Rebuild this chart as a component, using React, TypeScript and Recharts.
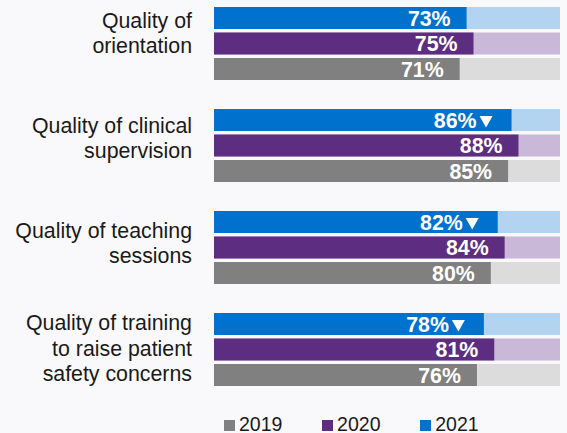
import React from "react";
import { BarChart, Bar, XAxis, YAxis, LabelList, Legend } from "recharts";

const categories = [
  "Quality of\norientation",
  "Quality of clinical\nsupervision",
  "Quality of teaching\nsessions",
  "Quality of training\nto raise patient\nsafety concerns",
];
const values2019 = [71, 85, 80, 76];
const values2020 = [75, 88, 84, 81];
const values2021 = [73, 86, 82, 78];
const decline2021 = [false, true, true, true];
const seriesNames = ["2021", "2020", "2019"];

const data = categories.map((name, i) => ({
  name,
  y2021: values2021[i],
  y2020: values2020[i],
  y2019: values2019[i],
}));

// per-category vertical nudge of the category label block (text layout only)
const labelShift = [-15.5, -12.5, -9.5, -19];

const FONT = "'Liberation Sans', Arial, Helvetica, sans-serif";

const CategoryTick = (props: any) => {
  const { x, y, payload, index } = props;
  const lines = String(payload.value).split("\n");
  const base = y + (labelShift[index] ?? -14);
  return (
    <text x={x} y={base} textAnchor="end" fill="#1a1a1a" fontFamily={FONT} fontSize={21.33}>
      {lines.map((ln, k) => (
        <tspan key={k} x={x} y={base + k * 25.6}>
          {ln}
        </tspan>
      ))}
    </text>
  );
};

const makeLabel = (flags: boolean[] | null) => (props: any) => {
  const { x, y, width, height, value, index } = props;
  const end = x + width;
  const baseline = y + height / 2 + 7.6;
  const flag = flags ? flags[index] : false;
  if (!flag) {
    return (
      <text x={end - 16} y={baseline} textAnchor="end" fill="#ffffff" fontFamily={FONT} fontWeight="bold" fontSize={21.33}>
        {`${value}%`}
      </text>
    );
  }
  const triRight = end - 19;
  const triLeft = triRight - 13;
  return (
    <g>
      <text x={triLeft - 3} y={baseline} textAnchor="end" fill="#ffffff" fontFamily={FONT} fontWeight="bold" fontSize={21.33}>
        {`${value}%`}
      </text>
      <polygon
        points={`${triLeft},${baseline - 11.7} ${triRight},${baseline - 11.7} ${(triLeft + triRight) / 2},${baseline}`}
        fill="#ffffff"
      />
    </g>
  );
};

const LegendContent = (props: any) => {
  const items = [...(props.payload || [])].sort((a: any, b: any) => String(a.value).localeCompare(String(b.value)));
  return (
    <div style={{ display: "flex", fontFamily: FONT, fontSize: 19.56, color: "#1a1a1a" }}>
      {items.map((it: any, i: number) => (
        <div key={i} style={{ display: "flex", alignItems: "center", marginRight: 39.6 }}>
          <span style={{ display: "inline-block", width: 11, height: 11, background: it.color, marginRight: 4, marginTop: 2 }} />
          <span>{it.value}</span>
        </div>
      ))}
    </div>
  );
};

export default function App() {
  return (
    <div style={{ position: "absolute", left: 0, top: 0, width: 567, height: 433, background: "#f9f9fb", overflow: "hidden" }}>
      <BarChart
        width={567}
        height={433}
        data={data}
        layout="vertical"
        margin={{ top: -8, right: 7, bottom: 33, left: 0 }}
        barGap={3.5}
      >
        <XAxis type="number" domain={[0, 100]} hide />
        <YAxis
          type="category"
          dataKey="name"
          width={214}
          axisLine={false}
          tickLine={false}
          tickSize={0}
          tickMargin={22}
          tick={<CategoryTick />}
          interval={0}
        />
        <Legend
          layout="horizontal"
          verticalAlign="middle"
          align="center"
          content={<LegendContent />}
          wrapperStyle={{ top: 413, left: 224, width: 340, height: 24 }}
        />
        <Bar dataKey="y2021" name={seriesNames[0]} fill="#0072ce" barSize={22} background={{ fill: "#b3d4f0" }} isAnimationActive={false}>
          <LabelList dataKey="y2021" content={makeLabel(decline2021)} />
        </Bar>
        <Bar dataKey="y2020" name={seriesNames[1]} fill="#5c2d80" barSize={22} background={{ fill: "#c9b8d7" }} isAnimationActive={false}>
          <LabelList dataKey="y2020" content={makeLabel(null)} />
        </Bar>
        <Bar dataKey="y2019" name={seriesNames[2]} fill="#808080" barSize={22} background={{ fill: "#dcdcdc" }} isAnimationActive={false}>
          <LabelList dataKey="y2019" content={makeLabel(null)} />
        </Bar>
      </BarChart>
    </div>
  );
}
